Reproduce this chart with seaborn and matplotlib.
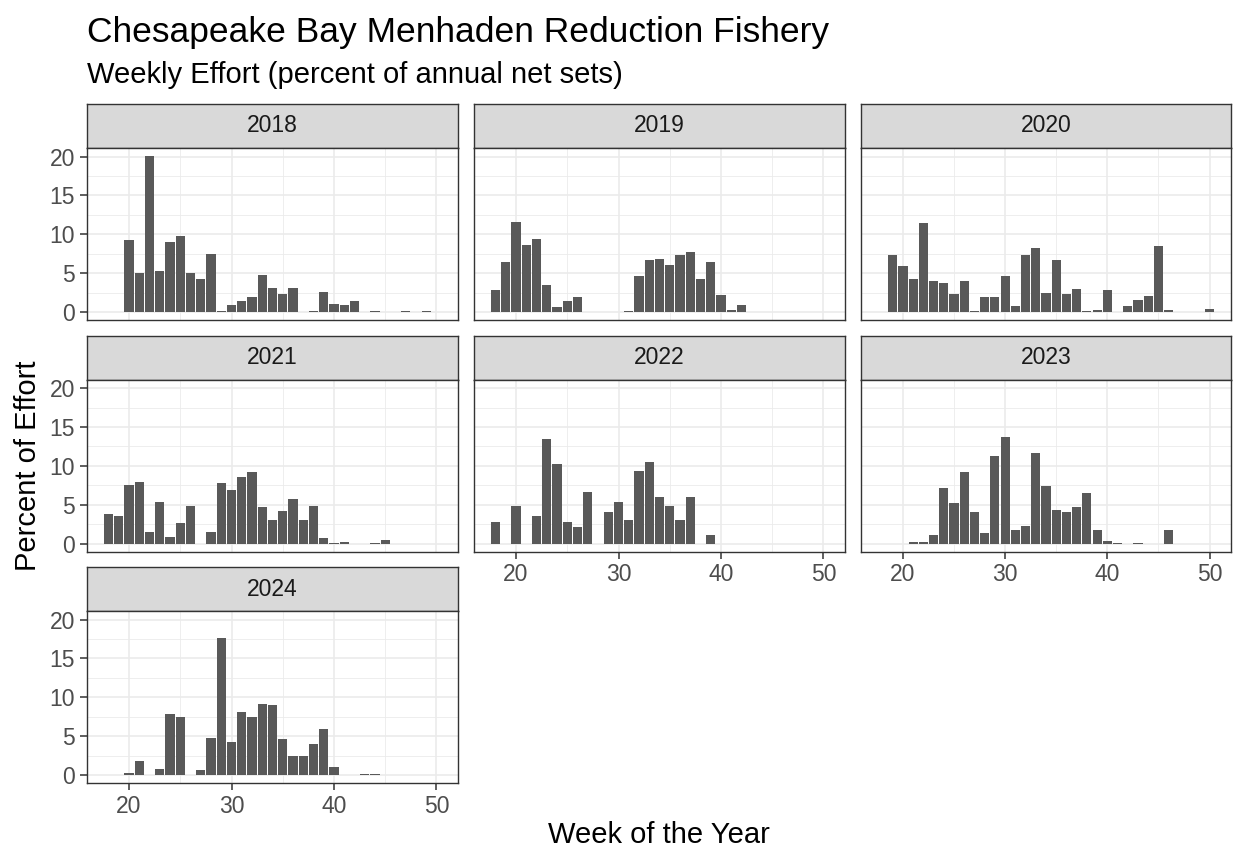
import numpy as np
import pandas as pd
import matplotlib
matplotlib.use("Agg")
import matplotlib.pyplot as plt
import seaborn as sns

# Weekly effort (percent of annual net sets)
weeks_2018 = [20, 21, 22, 23, 24, 25, 26, 27, 28, 29, 30, 31, 32, 33, 34, 35, 36, 38, 39, 40, 41, 42, 44, 47, 49]
pct_2018 = [9.3, 5.0, 20.1, 5.3, 9.0, 9.8, 5.1, 4.3, 7.5, 0.1, 0.9, 1.5, 2.0, 4.8, 3.1, 2.4, 3.1, 0.2, 2.6, 1.1, 0.9, 1.5, 0.1, 0.1, 0.1]

weeks_2019 = [18, 19, 20, 21, 22, 23, 24, 25, 26, 31, 32, 33, 34, 35, 36, 37, 38, 39, 40, 41, 42]
pct_2019 = [2.8, 6.4, 11.6, 8.7, 9.4, 3.5, 0.7, 1.45, 2.0, 0.1, 4.6, 6.7, 6.8, 6.1, 7.3, 7.8, 4.3, 6.4, 2.2, 0.3, 0.9]

weeks_2020 = [19, 20, 21, 22, 23, 24, 25, 26, 27, 28, 29, 30, 31, 32, 33, 34, 35, 36, 37, 38, 39, 40, 42, 43, 44, 45, 46, 50]
pct_2020 = [7.4, 6.0, 4.3, 11.5, 4.0, 3.8, 2.3, 4.0, 0.2, 1.9, 2.0, 4.7, 0.8, 7.3, 8.3, 2.5, 6.7, 2.3, 3.0, 0.2, 0.3, 2.9, 0.8, 1.6, 2.1, 8.5, 0.3, 0.4]

weeks_2021 = [18, 19, 20, 21, 22, 23, 24, 25, 26, 28, 29, 30, 31, 32, 33, 34, 35, 36, 37, 38, 39, 40, 41, 44, 45]
pct_2021 = [3.8, 3.6, 7.6, 7.9, 1.5, 5.3, 0.8, 2.7, 4.9, 1.5, 7.8, 6.9, 8.6, 9.25, 4.7, 3.1, 4.15, 5.8, 3.0, 4.9, 0.7, 0.1, 0.25, 0.1, 0.5]

weeks_2022 = [18, 20, 22, 23, 24, 25, 26, 27, 29, 30, 31, 32, 33, 34, 35, 36, 37, 39]
pct_2022 = [2.75, 4.8, 3.5, 13.4, 10.3, 2.75, 2.1, 6.6, 4.1, 5.3, 3.1, 9.4, 10.45, 6.0, 4.8, 3.0, 6.0, 1.1]

weeks_2023 = [21, 22, 23, 24, 25, 26, 27, 28, 29, 30, 31, 32, 33, 34, 35, 36, 37, 38, 39, 40, 41, 43, 46]
pct_2023 = [0.17, 0.17, 1.1, 7.1, 5.2, 9.2, 4.1, 1.4, 11.3, 13.7, 1.7, 2.3, 11.6, 7.45, 4.3, 4.1, 4.7, 6.5, 1.7, 0.35, 0.1, 0.1, 1.75]

weeks_2024 = [20, 21, 23, 24, 25, 27, 28, 29, 30, 31, 32, 33, 34, 35, 36, 37, 38, 39, 40, 43, 44]
pct_2024 = [0.26, 1.8, 0.77, 7.9, 7.5, 0.7, 4.8, 17.6, 4.3, 8.1, 7.5, 9.2, 9.0, 4.6, 2.5, 2.45, 4.0, 5.9, 1.0, 0.2, 0.1]

years = [2018, 2019, 2020, 2021, 2022, 2023, 2024]
all_weeks = [weeks_2018, weeks_2019, weeks_2020, weeks_2021, weeks_2022, weeks_2023, weeks_2024]
all_pct = [pct_2018, pct_2019, pct_2020, pct_2021, pct_2022, pct_2023, pct_2024]

df = pd.concat([
    pd.DataFrame({'year': yr, 'week': wk, 'pct': pc})
    for yr, wk, pc in zip(years, all_weeks, all_pct)
], ignore_index=True)

sns.set_theme(style='white')
plt.rcParams['font.family'] = ['Liberation Sans', 'DejaVu Sans']

W, H = 1236, 848
fig = plt.figure(figsize=(W / 100, H / 100), dpi=100)

BAR = '#595959'
DARK = '#333333'
GRID = '#EBEBEB'
TICK_TXT = '#4D4D4D'

col_x = [(87, 458), (474, 845), (861, 1231)]
row_top = [104, 335.5, 567]
STRIP_H = 44
PLOT_H = 172


def frac_box(x0, x1, y0, y1):
    # pixel box (top-left origin) -> figure fraction
    return [x0 / W, 1 - y1 / H, (x1 - x0) / W, (y1 - y0) / H]


ymax = df['pct'].max()
ylim = (-0.05 * ymax, ymax * 1.05)
xlim = (15.9, 52.1)

for i, yr in enumerate(years):
    r, c = divmod(i, 3)
    x0, x1 = col_x[c]
    top = row_top[r]

    # strip
    sax = fig.add_axes(frac_box(x0, x1, top, top + STRIP_H))
    sax.set_facecolor('#D9D9D9')
    sax.set_xticks([])
    sax.set_yticks([])
    for sp in sax.spines.values():
        sp.set_color(DARK)
        sp.set_linewidth(1.0)
    sax.text(0.5, 0.5, str(yr), ha='center', va='center', fontsize=16.5,
             color='#1A1A1A', transform=sax.transAxes)

    # panel
    ax = fig.add_axes(frac_box(x0, x1, top + STRIP_H, top + STRIP_H + PLOT_H))
    sub = df[df['year'] == yr]
    sns.barplot(data=sub, x='week', y='pct', native_scale=True, width=0.9,
                color=BAR, saturation=1, errorbar=None, linewidth=0, ax=ax)
    ax.set_xticks([20, 30, 40, 50])
    ax.set_xticks([25, 35, 45], minor=True)
    ax.set_yticks([0, 5, 10, 15, 20])
    ax.set_yticks([2.5, 7.5, 12.5, 17.5], minor=True)
    ax.set_xlim(*xlim)
    ax.set_ylim(*ylim)
    ax.grid(which='major', color=GRID, linewidth=1.2)
    ax.grid(which='minor', color=GRID, linewidth=0.6)
    ax.set_axisbelow(True)
    ax.set_xlabel('')
    ax.set_ylabel('')
    for sp in ax.spines.values():
        sp.set_visible(True)
        sp.set_color(DARK)
        sp.set_linewidth(1.0)

    show_y = c == 0
    show_x = (r == 2) or (r == 1 and c > 0)
    ax.tick_params(which='major', length=5, width=1.1, color=DARK,
                   labelcolor=TICK_TXT, labelsize=16.5, pad=3.5,
                   left=show_y, labelleft=show_y,
                   bottom=show_x, labelbottom=show_x)
    ax.tick_params(which='minor', length=0)

fig.text(87 / W, 1 - 42 / H, 'Chesapeake Bay Menhaden Reduction Fishery',
         fontsize=25.5, color='black', va='baseline', ha='left')
fig.text(87 / W, 1 - 83 / H, 'Weekly Effort (percent of annual net sets)',
         fontsize=21, color='black', va='baseline', ha='left')
fig.text(659 / W, 1 - 843 / H, 'Week of the Year', fontsize=21,
         color='black', va='baseline', ha='center')
fig.text(28 / W, 1 - 466 / H, 'Percent of Effort', fontsize=21,
         color='black', va='center', ha='center', rotation=90)

fig.savefig('out.png', dpi=100, facecolor='white')
plt.close(fig)
